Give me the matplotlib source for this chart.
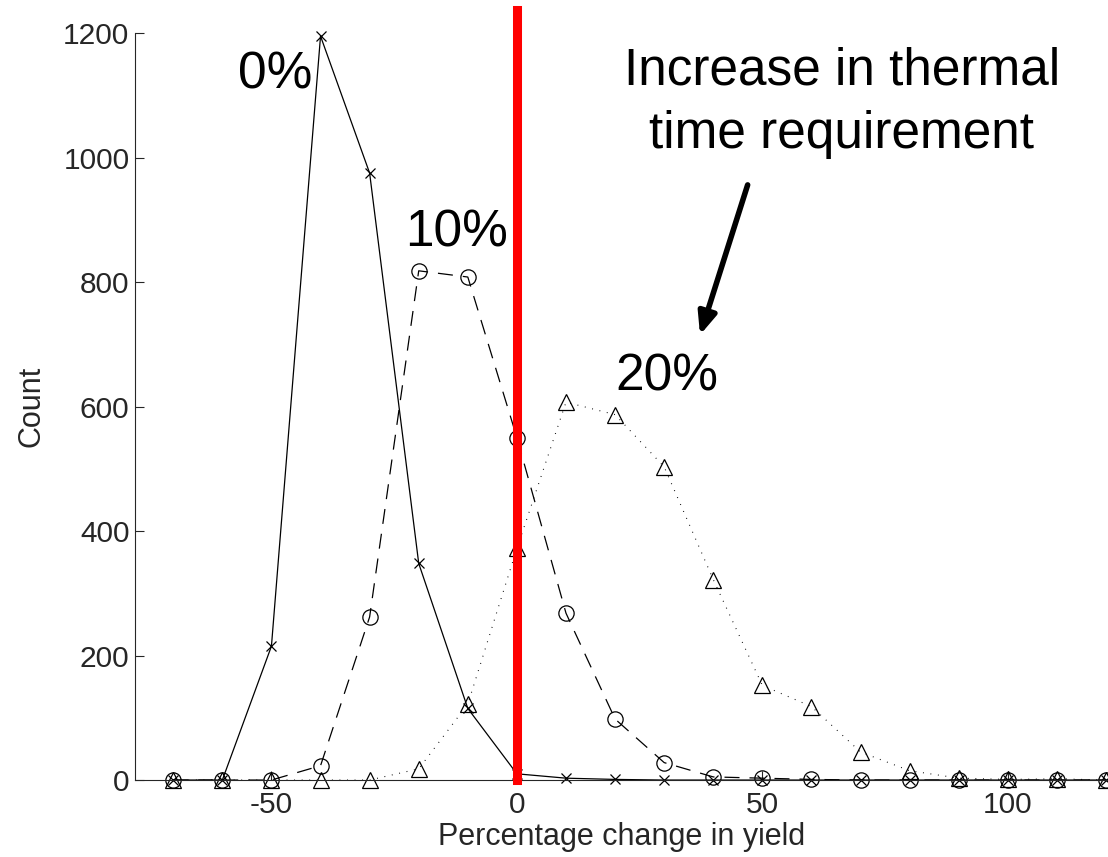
import matplotlib
matplotlib.use("Agg")
import matplotlib.pyplot as plt

plt.rcParams["font.family"] = ["Liberation Sans", "DejaVu Sans"]
plt.rcParams["axes.unicode_minus"] = False

# yield change bins (%) and counts for each thermal time increase
bins = [-70, -60, -50, -40, -30, -20, -10, 0, 10, 20, 30, 40, 50, 60, 70, 80, 90, 100, 110, 120]
count_0 = [0, 0, 215, 1195, 975, 348, 115, 10, 3, 1, 0, 0, 0, 0, 0, 0, 0, 0, 0, 0]
count_10 = [0, 0, 0, 23, 262, 818, 808, 550, 268, 98, 28, 5, 3, 1, 0, 0, 0, 0, 0, 0]
count_20 = [0, 0, 0, 0, 0, 18, 122, 372, 607, 587, 503, 322, 152, 118, 45, 15, 3, 1, 2, 0]

ref_x = 0
ref_top = 1237

labels = ["0%", "10%", "20%"]
label_xy = [(-49.3, 1133), (-12.2, 879), (30.6, 647)]
note = "Increase in thermal\ntime requirement"
note_xy = (66.2, 1088)
arrow_tail = (47.0, 956)
arrow_tip = (37.3, 715)

fig = plt.figure(figsize=(11.08, 8.57), dpi=100)
ax = fig.add_axes([0.1218, 0.0898, 0.8782, 0.8717])

ax.plot(bins, count_0, "-", color="k", lw=0.9, marker="x", ms=7, mew=0.9, clip_on=False)
ax.plot(bins, count_10, color="k", lw=0.9, ls=(0, (12, 8)), marker="o", ms=11,
        mfc="none", mew=0.9, clip_on=False)
ax.plot(bins, count_20, color="k", lw=0.8, ls=(0, (0.8, 6)), marker="^", ms=12,
        mfc="none", mew=0.9, clip_on=False)

ax.plot([ref_x, ref_x], [0, ref_top], color="red", lw=6.5, clip_on=False, zorder=5)

for lab, (x, y) in zip(labels, label_xy):
    ax.text(x, y, lab, fontsize=37, ha="center", va="center")
ax.text(note_xy[0], note_xy[1], note, fontsize=37, ha="center", va="center",
        linespacing=1.4)
ax.annotate("", xy=arrow_tip, xytext=arrow_tail,
            arrowprops=dict(arrowstyle="-|>,head_length=1.3,head_width=0.55",
                            lw=4, color="k", shrinkA=0, shrinkB=0))

ax.set_xlim(-77.8, 120.4)
ax.set_ylim(0, 1200)
ax.set_xticks([-50, 0, 50, 100])
ax.set_yticks(range(0, 1201, 200))
ax.set_xlabel("Percentage change in yield", fontsize=22, color="#262626", labelpad=2)
ax.set_ylabel("Count", fontsize=22, color="#262626", labelpad=12)

for s in ("top", "right"):
    ax.spines[s].set_visible(False)
for s in ("left", "bottom"):
    ax.spines[s].set_color("#262626")
    ax.spines[s].set_linewidth(0.8)
ax.tick_params(direction="in", length=6.5, width=0.8, color="#262626",
               labelcolor="#262626", labelsize=21.5)
ax.tick_params(axis="y", pad=4)
ax.tick_params(axis="x", pad=8)

fig.savefig("out.png", dpi=100)
